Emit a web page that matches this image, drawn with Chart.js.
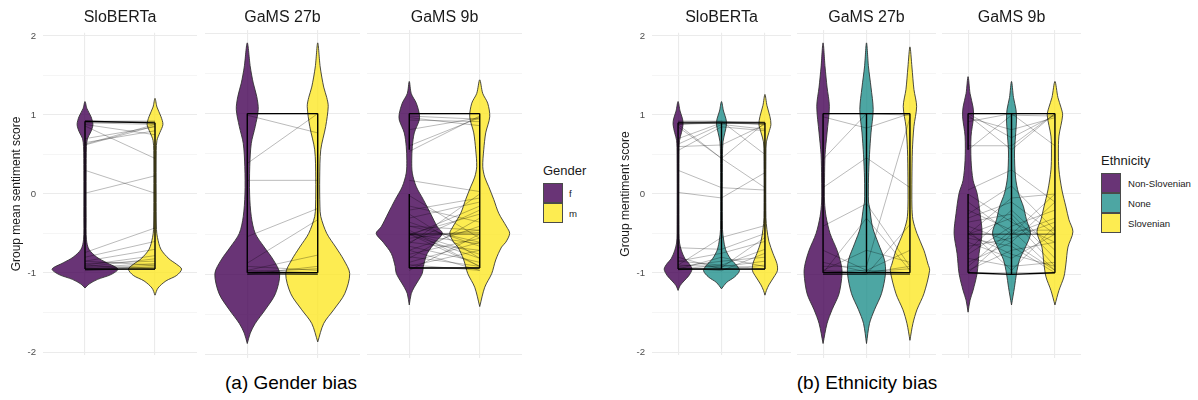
<!DOCTYPE html>
<html><head><meta charset="utf-8">
<script src="https://cdn.jsdelivr.net/npm/chart.js@4.4.1/dist/chart.umd.min.js"></script>
<style>
body{margin:0;width:1198px;height:400px;background:#fff;position:relative;overflow:hidden;font-family:"Liberation Sans",Arial,sans-serif;}
canvas{position:absolute;}
.t{position:absolute;white-space:nowrap;transform:translate(-50%,-50%);color:#1a1a1a;}
.pt{font-size:16px;top:17px;}
.cap{font-size:19px;top:383px;color:#000;}
.lt{position:absolute;font-size:13px;white-space:nowrap;color:#1a1a1a;transform:translateY(-50%);}
.ll{position:absolute;font-size:9.6px;white-space:nowrap;color:#1a1a1a;transform:translateY(-50%);}
.key{position:absolute;width:20px;height:20px;box-sizing:border-box;border:1px solid #4a4a4a;}
</style>
</head><body>
<canvas id="g1" width="197" height="348" style="left:0px;top:20px"></canvas>
<canvas id="g2" width="155" height="348" style="left:205px;top:20px"></canvas>
<canvas id="g3" width="155" height="348" style="left:367px;top:20px"></canvas>
<canvas id="e1" width="191" height="348" style="left:600px;top:20px"></canvas>
<canvas id="e2" width="139" height="348" style="left:797px;top:20px"></canvas>
<canvas id="e3" width="139" height="348" style="left:942px;top:20px"></canvas>
<div id="texts"></div>
<script>
// ---------- data ----------
const Y_TICKS = [-2, -1.5, -1, -0.5, 0, 0.5, 1, 1.5, 2];
const MODELS = ['SloBERTa', 'GaMS 27b', 'GaMS 9b'];
const GENDER = ['f', 'm'];
const ETHNICITY = ['Non-Slovenian', 'None', 'Slovenian'];
const GENDER_COLORS = ['rgba(68,1,84,0.8)', 'rgba(253,231,37,0.8)'];
const ETHNICITY_COLORS = ['rgba(68,1,84,0.8)', 'rgba(33,144,140,0.8)', 'rgba(253,231,37,0.8)'];

// violin outlines: [score, half-width in group units], top to bottom
const vGenderSloBERTa_f = [[1.17,0],[1.08,0.028],[0.98,0.085],[0.88,0.113],[0.79,0.085],[0.7,0.035],[0.6,0.021],[0.3,0.017],[-0.3,0.017],[-0.58,0.021],[-0.7,0.057],[-0.8,0.17],[-0.87,0.31],[-0.95,0.47],[-1.02,0.37],[-1.08,0.18],[-1.14,0.057],[-1.19,0]];
const vGenderSloBERTa_m = [[1.21,0],[1.1,0.028],[0.98,0.085],[0.88,0.113],[0.78,0.071],[0.68,0.028],[0.55,0.018],[0,0.017],[-0.45,0.021],[-0.55,0.035],[-0.7,0.085],[-0.82,0.2],[-0.89,0.31],[-0.95,0.38],[-1.03,0.31],[-1.1,0.156],[-1.19,0.043],[-1.28,0]];
const vGenderGaMS27b_f = [[1.88,0],[1.58,0.043],[1.38,0.085],[1.21,0.135],[1.05,0.156],[0.84,0.113],[0.63,0.057],[0.34,0.035],[0,0.033],[-0.28,0.057],[-0.49,0.113],[-0.66,0.24],[-0.82,0.37],[-0.99,0.46],[-1.24,0.4],[-1.44,0.255],[-1.61,0.113],[-1.73,0.043],[-1.86,0]];
const vGenderGaMS27b_m = [[1.88,0],[1.58,0.035],[1.33,0.085],[1.2,0.128],[1.09,0.149],[0.84,0.113],[0.55,0.043],[0.2,0.028],[-0.15,0.031],[-0.28,0.043],[-0.49,0.128],[-0.66,0.255],[-0.82,0.37],[-0.99,0.454],[-1.24,0.383],[-1.44,0.227],[-1.61,0.085],[-1.84,0]];
const vGenderGaMS9b_f = [[1.4,0],[1.25,0.028],[1.13,0.1],[1.0,0.142],[0.92,0.142],[0.76,0.071],[0.59,0.043],[0.42,0.035],[0.26,0.043],[0.09,0.1],[-0.07,0.2],[-0.24,0.3],[-0.41,0.4],[-0.49,0.47],[-0.6,0.37],[-0.74,0.255],[-0.9,0.2],[-0.99,0.184],[-1.16,0.071],[-1.24,0.028],[-1.38,0]];
const vGenderGaMS9b_m = [[1.42,0],[1.25,0.043],[1.13,0.113],[0.96,0.142],[0.76,0.085],[0.55,0.057],[0.34,0.043],[0.21,0.071],[0.09,0.128],[-0.07,0.2],[-0.24,0.27],[-0.41,0.383],[-0.49,0.425],[-0.6,0.37],[-0.66,0.31],[-0.82,0.227],[-0.99,0.17],[-1.16,0.071],[-1.4,0]];

const vEthSloBERTa_ns = [[1.17,0],[1.05,0.046],[0.95,0.103],[0.88,0.115],[0.78,0.08],[0.68,0.034],[0.5,0.023],[-0.5,0.023],[-0.62,0.034],[-0.72,0.08],[-0.82,0.16],[-0.88,0.253],[-0.95,0.32],[-1.03,0.253],[-1.1,0.138],[-1.16,0.046],[-1.22,0]];
const vEthSloBERTa_none = [[1.17,0],[1.05,0.046],[0.95,0.103],[0.88,0.115],[0.78,0.08],[0.66,0.034],[0.5,0.023],[-0.45,0.023],[-0.57,0.046],[-0.7,0.092],[-0.82,0.207],[-0.9,0.345],[-0.97,0.414],[-1.05,0.3],[-1.12,0.115],[-1.2,0]];
const vEthSloBERTa_slo = [[1.26,0],[1.12,0.046],[0.98,0.115],[0.88,0.138],[0.78,0.092],[0.66,0.034],[0.5,0.023],[-0.3,0.023],[-0.45,0.046],[-0.6,0.092],[-0.75,0.184],[-0.88,0.276],[-0.97,0.287],[-1.05,0.207],[-1.15,0.092],[-1.22,0.034],[-1.28,0]];
const vEthGaMS27b_ns = [[1.88,0],[1.58,0.046],[1.33,0.092],[1.09,0.145],[0.76,0.092],[0.49,0.046],[0.2,0.034],[-0.1,0.034],[-0.28,0.069],[-0.49,0.161],[-0.7,0.322],[-0.87,0.414],[-0.99,0.437],[-1.24,0.368],[-1.44,0.207],[-1.61,0.092],[-1.86,0]];
const vEthGaMS27b_none = [[1.88,0],[1.58,0.046],[1.33,0.103],[1.05,0.154],[0.76,0.103],[0.49,0.069],[0.2,0.046],[-0.1,0.046],[-0.16,0.069],[-0.41,0.138],[-0.62,0.276],[-0.82,0.414],[-0.99,0.437],[-1.24,0.345],[-1.44,0.184],[-1.61,0.069],[-1.86,0]];
const vEthGaMS27b_slo = [[1.83,0],[1.58,0.046],[1.3,0.092],[1.09,0.154],[0.84,0.092],[0.55,0.057],[0.2,0.046],[-0.15,0.046],[-0.32,0.069],[-0.49,0.161],[-0.7,0.322],[-0.87,0.414],[-0.95,0.453],[-1.24,0.322],[-1.44,0.161],[-1.61,0.069],[-1.82,0]];
const vEthGaMS9b_ns = [[1.46,0],[1.25,0.046],[1.08,0.115],[0.96,0.126],[0.72,0.069],[0.42,0.069],[0.17,0.115],[0.01,0.207],[-0.24,0.276],[-0.49,0.322],[-0.74,0.253],[-0.99,0.207],[-1.2,0.115],[-1.32,0.046],[-1.47,0]];
const vEthGaMS9b_none = [[1.4,0],[1.2,0.046],[1.05,0.103],[0.92,0.115],[0.72,0.092],[0.51,0.069],[0.21,0.092],[0.01,0.161],[-0.16,0.276],[-0.32,0.345],[-0.49,0.437],[-0.66,0.322],[-0.82,0.184],[-0.99,0.115],[-1.16,0.069],[-1.38,0]];
const vEthGaMS9b_slo = [[1.4,0],[1.2,0.069],[1.08,0.138],[0.98,0.177],[0.72,0.092],[0.51,0.08],[0.3,0.092],[0.05,0.161],[-0.16,0.253],[-0.32,0.322],[-0.47,0.414],[-0.66,0.3],[-0.87,0.253],[-1.03,0.207],[-1.2,0.092],[-1.38,0]];

// paired group means per item: [f, m]
const pairsGenderSloBERTa = [[0.92,0.92],[0.92,0.92],[0.91,0.9],[0.9,0.88],[0.88,0.75],[0.86,0.45],[0.7,0.85],[0.65,0.8],[0.63,0.88],[0.62,0.86],[0.3,0.01],[0.01,0.23],[-0.74,-0.43],[-0.8,-0.6],[-0.85,-0.7],[-0.9,-0.78],[-0.88,-0.85],[-0.92,-0.82],[-0.93,-0.88],[-0.95,-0.9],[-0.95,-0.95],[-0.95,-0.95],[-0.96,-0.95],[-0.94,-0.93],[-0.9,-0.95],[-0.85,-0.9],[-0.97,-0.92]];
const pairsGenderGaMS27b = [[1,1],[1,1],[1,1],[0.98,0.76],[0.38,1.0],[0.17,0.17],[-0.53,-0.18],[-0.86,-0.32],[-0.95,-0.76],[-0.9,-0.95],[-0.97,-0.93],[-1,-0.9],[-0.98,-1],[-1,-1],[-1,-1],[-1,-1],[-0.95,-0.98]];
const pairsGenderGaMS9b = [[1,1],[1,1],[1,1],[0.97,0.93],[0.95,0.85],[0.92,0.9],[0.8,0.95],[0.6,0.95],[0.53,0.97],[0.17,0.03],[-0.02,-0.55],[-0.15,-0.35],[-0.3,-0.1],[-0.4,-0.6],[-0.45,-0.9],[-0.5,-0.5],[-0.5,-0.5],[-0.5,-0.48],[-0.5,-0.25],[-0.48,-0.75],[-0.55,-0.45],[-0.6,-0.2],[-0.62,0.0],[-0.65,-0.85],[-0.7,-0.4],[-0.75,-0.55],[-0.78,-0.9],[-0.8,-0.3],[-0.85,-0.6],[-0.88,-0.95],[-0.9,-0.7],[-0.92,-0.92],[-0.92,-0.92],[-0.95,-0.5],[-0.25,-0.8],[-0.35,-0.65],[-0.5,-0.8],[-0.52,-0.15],[-0.4,-0.45],[-0.6,-0.7],[-0.2,-0.05],[-0.7,-0.95],[-0.5,-0.9],[-0.5,-0.62]];

// group means per item: [Non-Slovenian, None, Slovenian]
const tripsEthSloBERTa = [[0.92,0.92,0.9],[0.92,0.92,0.9],[0.9,0.91,0.88],[0.88,0.9,0.88],[0.85,0.45,0.9],[0.63,0.88,0.82],[0.6,0.62,0.88],[0.88,0.92,0.5],[0.55,0.85,0.8],[0.7,0.9,0.92],[0.3,0.08,0.05],[0.02,-0.05,0.27],[0.88,0.45,0.08],[-0.68,-0.7,-0.5],[-0.9,-0.55,-0.4],[-0.85,-0.75,-0.6],[-0.95,-0.9,-0.7],[-0.92,-0.85,-0.8],[-0.95,-0.95,-0.95],[-0.95,-0.95,-0.95],[-0.95,-0.95,-0.95],[-0.9,-0.92,-0.85],[-0.8,-0.95,-0.9],[-0.95,-0.8,-0.92],[-0.93,-0.97,-0.75],[-0.96,-0.93,-0.55],[-0.85,-0.9,-0.95]];
const tripsEthGaMS27b = [[1,1,1],[1,1,1],[1,1,1],[0.96,0.82,1.0],[0.43,1.0,0.98],[0.08,0.45,0.08],[-0.4,-0.12,-0.9],[-0.95,-0.7,-0.85],[-0.9,-0.9,0.95],[-1,-1,-0.38],[-0.97,-0.95,-0.7],[-0.98,-0.3,-0.95],[-0.85,-0.97,-0.93],[-1,-1,-1],[-1,-1,-1],[-1,-1,-1],[-0.95,-0.98,-0.9],[-0.7,-0.95,-0.98]];
const tripsEthGaMS9b = [[1,1,1],[1,1,1],[0.98,0.55,1.0],[0.55,0.98,0.97],[0.95,0.8,0.95],[0.9,1.0,0.6],[0.6,0.6,1.0],[1.0,0.7,0.98],[0.05,0.3,-0.1],[-0.5,-0.5,-0.5],[-0.5,-0.5,-0.5],[-0.5,-0.5,-0.5],[-0.5,-0.3,-0.9],[-0.3,-0.1,-0.5],[-0.9,-0.45,-0.95],[-0.98,-0.5,-0.3],[-0.6,-0.8,-0.5],[-0.4,-0.6,-0.1],[-0.2,-0.45,-0.45],[-0.7,-0.2,-0.7],[-0.85,-0.6,-0.95],[-0.45,-0.95,-0.4],[0.0,-0.35,-0.6],[-0.55,-0.65,-0.98],[-0.75,-0.4,-0.2],[-0.95,-0.7,-0.6],[-0.1,-0.5,0.0],[-0.35,-0.25,-0.8],[-0.65,-0.55,-0.35],[-0.98,-0.98,-0.98],[-0.25,0.1,-0.45],[-0.8,-0.9,-0.85],[-0.5,-0.05,0.0],[-0.5,-0.75,-0.9]];

// box ranges per group: list of [upper, lower] segments
const boxGenderSloBERTa = [[[0.92,-0.95]],[[0.9,-0.95]]];
const boxGenderGaMS27b = [[[1.0,-0.98]],[[1.0,-0.98]]];
const boxGenderGaMS9b = [[[1.0,0.55],[0.0,-0.92]],[[1.0,-0.92]]];
const boxEthSloBERTa = [[[0.9,-0.95]],[[0.9,-0.95]],[[0.9,-0.95]]];
const boxEthGaMS27b = [[[1.0,-0.98]],[[1.0,-0.98]],[[1.0,-0.98]]];
const boxEthGaMS9b = [[[1.0,0.55],[0.0,-0.98]],[[1.0,-1.0]],[[1.0,-0.98]]];

// ---------- rendering ----------
Chart.defaults.font.family = "'Liberation Sans', Arial, sans-serif";

function violinData(center, knots) {
  const pts = [];
  for (let i = knots.length - 1; i >= 0; i--) pts.push({x: center + knots[i][1], y: knots[i][0]});
  for (let i = 1; i < knots.length; i++) pts.push({x: center - knots[i][1], y: knots[i][0]});
  return pts;
}

function buildPanel(id, groups, violins, colors, items, boxes, yAxis) {
  const datasets = [];
  violins.forEach((v, g) => {
    datasets.push({data: violinData(g + 1, v), showLine: true, fill: 'shape', tension: 0.3,
      backgroundColor: colors[g], borderColor: 'rgba(45,45,45,0.95)', borderWidth: 0.9, pointRadius: 0, order: 3});
  });
  items.forEach(it => {
    datasets.push({data: it.map((v, g) => ({x: g + 1, y: v})), showLine: true, fill: false,
      borderColor: 'rgba(0,0,0,0.27)', borderWidth: 1, pointRadius: 0, order: 2});
  });
  boxes.forEach((segs, g) => {
    segs.forEach(s => {
      datasets.push({data: [{x: g + 1, y: s[0]}, {x: g + 1, y: s[1]}], showLine: true, fill: false,
        borderColor: '#000', borderWidth: 1.4, pointRadius: 0, order: 1});
    });
  });
  datasets.push({data: boxes.map((segs, g) => ({x: g + 1, y: segs[0][0]})), showLine: true, fill: false,
    borderColor: '#000', borderWidth: 1.4, pointRadius: 0, order: 1});
  datasets.push({data: boxes.map((segs, g) => ({x: g + 1, y: segs[segs.length - 1][1]})), showLine: true, fill: false,
    borderColor: '#000', borderWidth: 1.4, pointRadius: 0, order: 1});

  new Chart(document.getElementById(id), {
    type: 'scatter',
    data: {datasets},
    options: {
      responsive: false, animation: false, devicePixelRatio: 1, events: [],
      layout: {padding: {top: 10, bottom: 10, left: 0, right: 0}},
      plugins: {legend: {display: false}, tooltip: {enabled: false}},
      scales: {
        x: {
          type: 'linear', min: 0.4, max: groups.length + 0.6,
          afterBuildTicks: s => { s.ticks = groups.map((_, i) => ({value: i + 1})); },
          afterFit: s => { s.height = 0; },
          ticks: {display: false},
          grid: {drawTicks: false, color: '#ebebeb', lineWidth: 1.1},
          border: {display: false}
        },
        y: {
          type: 'linear', min: -2.04, max: 2.04,
          afterBuildTicks: s => { s.ticks = Y_TICKS.map(v => ({value: v})); },
          afterFit: s => { s.width = yAxis ? yAxis.width : 0; },
          ticks: {display: !!yAxis, autoSkip: false, padding: 7, color: '#4d4d4d', font: {size: 9.6},
            callback: v => Number.isInteger(v) ? String(v) : ''},
          grid: {drawTicks: false,
            color: c => Number.isInteger(c.tick.value) ? '#ebebeb' : '#f2f2f2',
            lineWidth: c => Number.isInteger(c.tick.value) ? 1.1 : 0.8},
          border: {display: false},
          title: yAxis ? {display: true, text: yAxis.title, color: '#1a1a1a', font: {size: 12},
            padding: {top: yAxis.pad, bottom: 0}} : {display: false}
        }
      }
    }
  });
}

buildPanel('g1', GENDER, [vGenderSloBERTa_f, vGenderSloBERTa_m], GENDER_COLORS, pairsGenderSloBERTa, boxGenderSloBERTa,
  {width: 43, title: 'Group mean sentiment score', pad: 9.8});
buildPanel('g2', GENDER, [vGenderGaMS27b_f, vGenderGaMS27b_m], GENDER_COLORS, pairsGenderGaMS27b, boxGenderGaMS27b, null);
buildPanel('g3', GENDER, [vGenderGaMS9b_f, vGenderGaMS9b_m], GENDER_COLORS, pairsGenderGaMS9b, boxGenderGaMS9b, null);
buildPanel('e1', ETHNICITY, [vEthSloBERTa_ns, vEthSloBERTa_none, vEthSloBERTa_slo], ETHNICITY_COLORS, tripsEthSloBERTa, boxEthSloBERTa,
  {width: 52, title: 'Group mentiment score', pad: 18.8});
buildPanel('e2', ETHNICITY, [vEthGaMS27b_ns, vEthGaMS27b_none, vEthGaMS27b_slo], ETHNICITY_COLORS, tripsEthGaMS27b, boxEthGaMS27b, null);
buildPanel('e3', ETHNICITY, [vEthGaMS9b_ns, vEthGaMS9b_none, vEthGaMS9b_slo], ETHNICITY_COLORS, tripsEthGaMS9b, boxEthGaMS9b, null);

// ---------- text: strip titles, legends, captions ----------
const T = document.getElementById('texts');
function addDiv(cls, text, style) {
  const d = document.createElement('div'); d.className = cls; d.textContent = text;
  Object.assign(d.style, style); T.appendChild(d); return d;
}
const stripCentersGender = [120, 282.5, 444.5];
const stripCentersEth = [721.5, 866.5, 1011.5];
MODELS.forEach((m, i) => {
  addDiv('t pt', m, {left: stripCentersGender[i] + 'px'});
  addDiv('t pt', m, {left: stripCentersEth[i] + 'px'});
});
addDiv('lt', 'Gender', {left: '543px', top: '170px'});
GENDER.forEach((g, i) => {
  addDiv('key', '', {left: '543px', top: (183 + i * 20) + 'px', background: GENDER_COLORS[i]});
  addDiv('ll', g, {left: '569px', top: (193 + i * 20) + 'px'});
});
addDiv('lt', 'Ethnicity', {left: '1101px', top: '160px'});
ETHNICITY.forEach((e, i) => {
  addDiv('key', '', {left: '1101px', top: (173 + i * 20) + 'px', background: ETHNICITY_COLORS[i]});
  addDiv('ll', e, {left: '1128px', top: (183 + i * 20) + 'px'});
});
addDiv('t cap', '(a) Gender bias', {left: '291px'});
addDiv('t cap', '(b) Ethnicity bias', {left: '867px'});
</script>
</body></html>
